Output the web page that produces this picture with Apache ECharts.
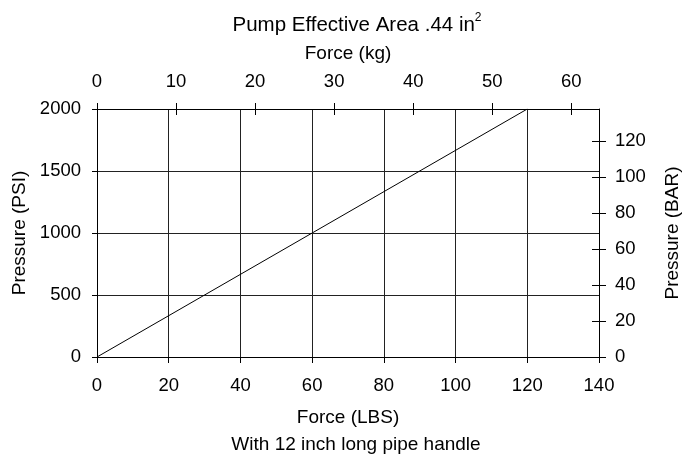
<!DOCTYPE html>
<html>
<head>
<meta charset="utf-8">
<title>Pump Effective Area</title>
<script src="https://cdn.jsdelivr.net/npm/echarts@6/dist/echarts.min.js"></script>
<style>
  html, body { margin: 0; padding: 0; background: #fff; }
  #main { width: 682px; height: 455px; }
</style>
</head>
<body>
<div id="main"></div>
<script>
// line: force on the handle (lbs) -> pressure (psi)
const forceLbs = [0, 120];
const pressurePsi = [0, 2000];

// tick labels
const lbsTicks = [0, 20, 40, 60, 80, 100, 120, 140];
const psiTicks = [0, 500, 1000, 1500, 2000];
const kgTicks = [0, 10, 20, 30, 40, 50, 60];
const barTicks = [0, 20, 40, 60, 80, 100, 120];

// secondary scales (same extent as the primary ones)
const kgMax = 140 / 2.20462;   // 140 lbs
const barMax = 2000 / 14.5038; // 2000 psi

const FONT = "'Liberation Sans', Arial, sans-serif";
const black = '#000';

const myChart = echarts.init(document.getElementById('main'), null, { renderer: 'canvas' });

const lineStyle = { color: black, width: 1 };
const labelStyle = { color: black, fontSize: 18.5, fontFamily: FONT, formatter: (v) => String(v) };
const nameStyle = { color: black, fontSize: 19, fontFamily: FONT };
// both grids share the same rect: the second one only carries the inner half of the crossing ticks
const gridRect = { left: 97, right: 83, top: 109, bottom: 98, containLabel: false, outerBoundsMode: 'none' };

const option = {
  backgroundColor: '#fff',
  animation: false,
  title: [{
    text: '{a|Pump Effective Area .44 in}{b|2}',
    left: 352,
    textAlign: 'center',
    top: 7,
    textStyle: {
      rich: {
        a: { fontSize: 20.5, fontFamily: FONT, color: black, fontWeight: 'normal', lineHeight: 26 },
        b: { fontSize: 12, fontFamily: FONT, color: black, fontWeight: 'normal', verticalAlign: 'top', lineHeight: 12 }
      }
    }
  }, {
    text: 'With 12 inch long pipe handle',
    left: 351,
    textAlign: 'center',
    top: 430,
    textStyle: { fontSize: 19, fontFamily: FONT, color: black, fontWeight: 'normal' }
  }],
  grid: [gridRect, { ...gridRect }],
  xAxis: [{
    // bottom: Force (LBS)
    type: 'value',
    gridIndex: 0,
    position: 'bottom',
    min: lbsTicks[0],
    max: lbsTicks[lbsTicks.length - 1],
    interval: 20,
    name: 'Force (LBS)',
    nameLocation: 'middle',
    nameGap: 51,
    nameTextStyle: nameStyle,
    axisLine: { show: true, onZero: false, lineStyle: lineStyle },
    axisTick: { show: true, inside: false, length: 6, lineStyle: lineStyle },
    axisLabel: { margin: 19, ...labelStyle },
    splitLine: { show: true, lineStyle: { color: '#222', width: 1 } }
  }, {
    // top: Force (kg)
    type: 'value',
    gridIndex: 0,
    position: 'top',
    min: 0,
    max: kgMax,
    name: 'Force (kg)',
    nameLocation: 'middle',
    nameGap: 46,
    nameTextStyle: nameStyle,
    axisLine: { show: true, onZero: false, lineStyle: lineStyle },
    axisTick: { show: true, inside: false, length: 6, customValues: kgTicks, lineStyle: lineStyle },
    axisLabel: { margin: 18, customValues: kgTicks, ...labelStyle },
    splitLine: { show: false }
  }, {
    // inner half of the crossing kg ticks
    type: 'value',
    gridIndex: 1,
    position: 'top',
    min: 0,
    max: kgMax,
    axisLine: { show: false, onZero: false },
    axisTick: { show: true, inside: true, length: 6, customValues: kgTicks, lineStyle: lineStyle },
    axisLabel: { show: false },
    splitLine: { show: false }
  }],
  yAxis: [{
    // left: Pressure (PSI)
    type: 'value',
    gridIndex: 0,
    position: 'left',
    min: psiTicks[0],
    max: psiTicks[psiTicks.length - 1],
    interval: 500,
    name: 'Pressure (PSI)',
    nameLocation: 'middle',
    nameGap: 68,
    nameTextStyle: nameStyle,
    axisLine: { show: true, onZero: false, lineStyle: lineStyle },
    axisTick: { show: true, inside: false, length: 5, lineStyle: lineStyle },
    axisLabel: { margin: 16, ...labelStyle },
    splitLine: { show: true, lineStyle: { color: '#222', width: 1 } }
  }, {
    // right: Pressure (BAR)
    type: 'value',
    gridIndex: 0,
    position: 'right',
    min: 0,
    max: barMax,
    name: 'Pressure (BAR)',
    nameLocation: 'middle',
    nameGap: 64,
    nameTextStyle: nameStyle,
    axisLine: { show: true, onZero: false, lineStyle: lineStyle },
    axisTick: { show: true, inside: false, length: 7, customValues: barTicks, lineStyle: lineStyle },
    axisLabel: { margin: 16, customValues: barTicks, ...labelStyle },
    splitLine: { show: false }
  }, {
    // inner half of the crossing bar ticks
    type: 'value',
    gridIndex: 1,
    position: 'right',
    min: 0,
    max: barMax,
    axisLine: { show: false, onZero: false },
    axisTick: { show: true, inside: true, length: 7, customValues: barTicks, lineStyle: lineStyle },
    axisLabel: { show: false },
    splitLine: { show: false }
  }],
  series: [{
    type: 'line',
    xAxisIndex: 0,
    yAxisIndex: 0,
    data: forceLbs.map((f, i) => [f, pressurePsi[i]]),
    showSymbol: false,
    lineStyle: { color: black, width: 1 },
    silent: true
  }]
};

myChart.setOption(option);
</script>
</body>
</html>
